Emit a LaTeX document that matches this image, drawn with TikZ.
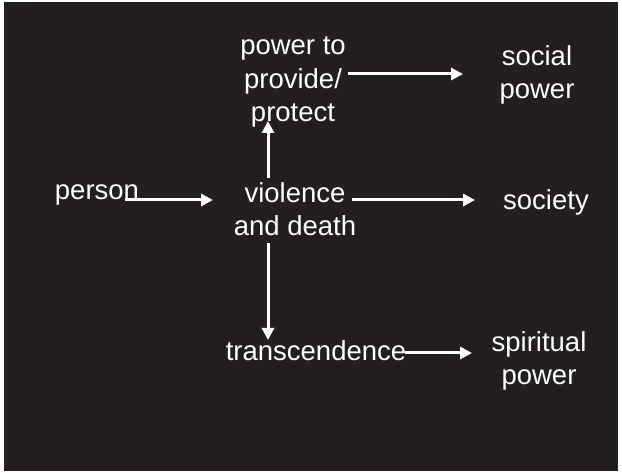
\documentclass[tikz,border=0pt]{standalone}
\usepackage{fontspec}
\setmainfont{Liberation Sans}
\usetikzlibrary{arrows.meta}
\definecolor{bg}{HTML}{231F20}
\begin{document}
\begin{tikzpicture}[x=1pt,y=-1pt,
  lbl/.style={text=white,font=\fontsize{27.5}{33.5}\selectfont,inner sep=0pt,align=center},
  arr/.style={draw=white,line width=3pt,-{Triangle[length=12pt,width=12pt]}}]
\useasboundingbox (0,0) rectangle (622,473);
\fill[white] (0,0) rectangle (622,473);
\fill[bg] (4,2) rectangle (618,471);
\node[lbl] (ppp) at (293,82) {power to\\provide/\\protect};
\node[lbl] (soc) at (537,75) {social\\power};
\node[lbl,anchor=base] (per) at (97,200) {person};
\node[lbl] (vd) at (295,209) {violence\\and death};
\node[lbl,anchor=base] (soy) at (546,210) {society};
\node[lbl,anchor=base] (tr) at (316,361) {transcendence};
\node[lbl] (sp) at (539,361) {spiritual\\power};
\coordinate (perE) at (125,200);
\coordinate (vdW) at (213,200);
\coordinate (pppE) at (348,74);
\coordinate (socW) at (463,74);
\coordinate (vdE) at (352,200);
\coordinate (soyW) at (475,200);
\coordinate (vdN) at (268,178);
\coordinate (pppS) at (268,121);
\coordinate (vdS) at (268,243);
\coordinate (trN) at (268,340);
\coordinate (trE) at (405,353);
\coordinate (spW) at (472,353);
\draw[arr] (perE) -- (vdW);
\draw[arr] (pppE) -- (socW);
\draw[arr] (vdE) -- (soyW);
\draw[arr] (vdN) -- (pppS);
\draw[arr] (vdS) -- (trN);
\draw[arr] (trE) -- (spW);
\end{tikzpicture}
\end{document}
